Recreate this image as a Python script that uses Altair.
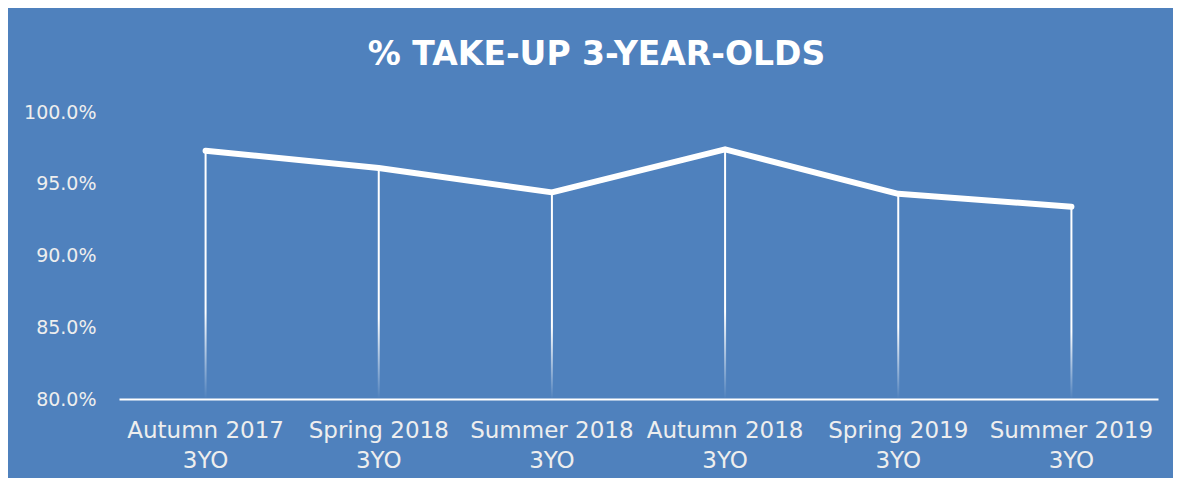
import altair as alt
import pandas as pd

# ---- data ----
seasons = ["Autumn 2017", "Spring 2018", "Summer 2018", "Autumn 2018", "Spring 2019", "Summer 2019"]
age_group = "3YO"
take_up = [0.973, 0.961, 0.944, 0.974, 0.943, 0.934]
y_ticks = [0.80, 0.85, 0.90, 0.95, 1.00]
title_text = "% TAKE-UP 3-YEAR-OLDS"

labels = [f"{s}|{age_group}" for s in seasons]
df = pd.DataFrame({"period": labels, "take_up": take_up})

BG = "#4F81BD"
TXT = "#EEEEEE"

x_enc = alt.X(
    "period:N",
    sort=labels,
    scale=alt.Scale(paddingInner=0, paddingOuter=0),
    axis=alt.Axis(
        title=None,
        labelExpr="split(datum.label, '|')",
        labelAngle=0,
        labelFont="DejaVu Sans",
        labelFontSize=23,
        labelColor=TXT,
        labelPadding=20,
        labelLineHeight=30,
        labelLimit=400,
        labelOverlap=False,
        ticks=False,
        tickSize=0,
        domainColor="white",
        domainWidth=2,
        grid=False,
    ),
)

y_scale = alt.Scale(domain=[0.8, 1.0], nice=False, zero=False)

fade = alt.LinearGradient(
    gradient="linear",
    stops=[
        alt.GradientStop(offset=0, color="#FFFFFF"),
        alt.GradientStop(offset=0.65, color="#FFFFFF"),
        alt.GradientStop(offset=1, color="rgba(255,255,255,0)"),
    ],
    x1=0, x2=0, y1=0, y2=1,
)

drops = alt.Chart(df).mark_bar(size=2, fill=fade, stroke=None).encode(
    x=x_enc,
    y=alt.Y(
        "take_up:Q",
        scale=y_scale,
        axis=alt.Axis(
            title=None,
            values=y_ticks,
            format=".1%",
            labelFont="DejaVu Sans",
            labelFontSize=19,
            labelColor=TXT,
            labelPadding=23,
            domain=False,
            ticks=False,
            tickSize=0,
            grid=False,
        ),
    ),
    y2=alt.datum(0.8),
)

line = alt.Chart(df).mark_line(
    color="white", strokeWidth=6, strokeCap="round", strokeJoin="round"
).encode(
    x=alt.X("period:N", sort=labels),
    y=alt.Y("take_up:Q", scale=y_scale),
)

chart = (
    alt.layer(drops, line)
    .properties(
        width=1039,
        height=287,
        padding={"left": 111, "top": 104, "right": 15, "bottom": 79},
        autosize=alt.AutoSizeParams(type="none"),
        background=BG,
        title=alt.TitleParams(
            text=title_text,
            font="DejaVu Sans",
            fontSize=33,
            fontWeight="bold",
            color="white",
            anchor="middle",
            baseline="alphabetic",
            offset=5,
            dx=-42,
        ),
    )
    .configure_view(stroke=None)
)

chart.save("out.html", embed_options={"renderer": "svg", "actions": False})
